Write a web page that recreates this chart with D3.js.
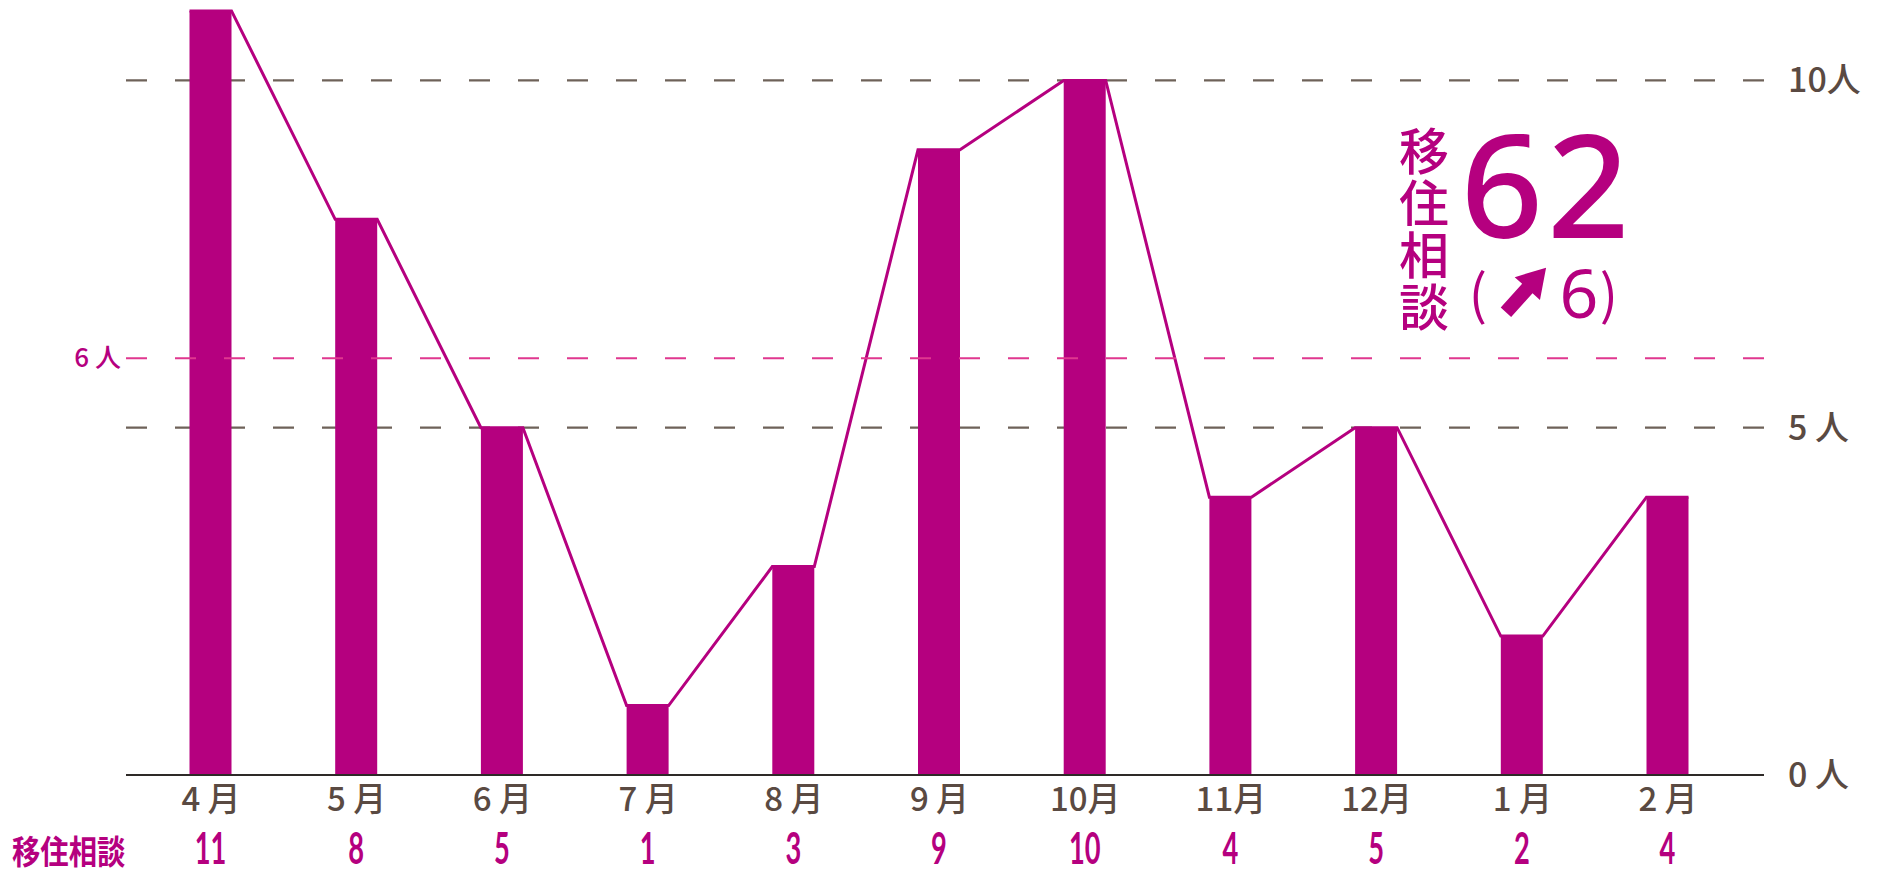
<!DOCTYPE html>
<html><head><meta charset="utf-8">
<script src="https://cdn.jsdelivr.net/npm/d3@7"></script>
<style>
html,body{margin:0;padding:0;background:#fff;}
svg{display:block;}
</style></head>
<body>
<svg id="chart" width="1882" height="873"></svg>
<script>
const months = ["4 月","5 月","6 月","7 月","8 月","9 月","10月","11月","12月","1 月","2 月"];
const counts = [11, 8, 5, 1, 3, 9, 10, 4, 5, 2, 4];
const gridValues = [10, 5];
const gridLabels = ["10人", "5 人"];
const zeroLabel = "0 人";
const avgValue = 6;
const avgLabel = "6 人";
const rowLabel = "移住相談";
const totalValue = 62;
const changeValue = 6;

const PINK = "#b5007f";
const PINK_LINE = "#e0378f";
const BROWN = "#5a4a42";
const GRAY = "#6e6259";
const FONT = "'Noto Sans CJK JP','Noto Sans',sans-serif";

const svg = d3.select("#chart");
const x = d3.scalePoint().domain(months).range([210.5, 1667.5]);
const y = d3.scaleLinear().domain([0, 10]).range([775, 80.4]);
const bw = 42;
const left = 126, right = 1764;

// gray dashed gridlines (behind)
svg.append("g").selectAll("line").data(gridValues).join("line")
  .attr("x1", left).attr("x2", right)
  .attr("y1", d => y(d)).attr("y2", d => y(d))
  .attr("stroke", GRAY).attr("stroke-width", 2.2)
  .attr("stroke-dasharray", "21,28");

// bars
svg.append("g").selectAll("rect").data(counts).join("rect")
  .attr("x", (d, i) => x(months[i]) - bw / 2)
  .attr("y", d => y(d))
  .attr("width", bw)
  .attr("height", d => y(0) - y(d))
  .attr("fill", PINK);

// connecting line through bar-top corners
const pts = [];
counts.forEach((d, i) => {
  pts.push([x(months[i]) - bw / 2, y(d)]);
  pts.push([x(months[i]) + bw / 2, y(d)]);
});
svg.append("path")
  .attr("d", d3.line()(pts))
  .attr("fill", "none").attr("stroke", PINK).attr("stroke-width", 3)
  .attr("stroke-linejoin", "miter");

// pink average dashed line (on top)
svg.append("line")
  .attr("x1", left).attr("x2", right)
  .attr("y1", y(avgValue)).attr("y2", y(avgValue))
  .attr("stroke", PINK_LINE).attr("stroke-width", 2.2)
  .attr("stroke-dasharray", "21,28");
svg.append("text")
  .attr("x", 121).attr("y", y(avgValue) + 9)
  .attr("text-anchor", "end")
  .attr("font-family", FONT).attr("font-size", 26).attr("font-weight", 500)
  .attr("fill", PINK).text(avgLabel);

// axis baseline
svg.append("line")
  .attr("x1", left).attr("x2", right)
  .attr("y1", y(0)).attr("y2", y(0))
  .attr("stroke", "#2e2a28").attr("stroke-width", 2.2);

// right labels
svg.append("g").selectAll("text").data(gridValues.concat([0])).join("text")
  .attr("x", 1788).attr("y", d => y(d) + 12)
  .attr("font-family", FONT).attr("font-size", 34).attr("font-weight", 500)
  .attr("fill", BROWN)
  .text((d, i) => i < gridLabels.length ? gridLabels[i] : zeroLabel);

// month labels via axis
const axis = d3.axisBottom(x).tickSize(0).tickPadding(0);
const ax = svg.append("g").attr("transform", "translate(0,811)").call(axis);
ax.select(".domain").remove();
ax.selectAll("text")
  .attr("y", 0).attr("dy", 0)
  .attr("font-family", FONT).attr("font-size", 33).attr("font-weight", 500)
  .attr("fill", BROWN);

// bottom row label
svg.append("text")
  .attr("transform", "translate(12,864) scale(0.86,1)")
  .attr("font-family", FONT).attr("font-size", 33).attr("font-weight", 700)
  .attr("fill", PINK).text(rowLabel);

// bottom row values
svg.append("g").selectAll("text").data(counts).join("text")
  .attr("transform", (d, i) => `translate(${x(months[i])},864) scale(0.62,1)`)
  .attr("text-anchor", "middle")
  .attr("font-family", "Lato, 'Noto Sans', sans-serif").attr("font-size", 44).attr("font-weight", 700)
  .attr("fill", PINK).text(d => d);

// annotation: vertical label
const ann = svg.append("g");
ann.selectAll("text.v").data(rowLabel.split("")).join("text")
  .attr("class", "v")
  .attr("x", 1424).attr("y", (d, i) => 170 + i * 52)
  .attr("text-anchor", "middle")
  .attr("font-family", FONT).attr("font-size", 50).attr("font-weight", 500)
  .attr("fill", PINK).text(d => d);

ann.append("text")
  .attr("x", 1547).attr("y", 238)
  .attr("text-anchor", "middle")
  .attr("font-family", "'Noto Sans','Open Sans',sans-serif").attr("font-size", 144).attr("font-weight", 500)
  .attr("letter-spacing", 4)
  .attr("fill", PINK).text(totalValue);

ann.append("text")
  .attr("x", 1478).attr("y", 314)
  .attr("text-anchor", "middle")
  .attr("font-family", FONT).attr("font-size", 54).attr("font-weight", 400)
  .attr("fill", PINK).text("(");
ann.append("text")
  .attr("x", 1579).attr("y", 318)
  .attr("text-anchor", "middle")
  .attr("font-family", "'Noto Sans',sans-serif").attr("font-size", 68).attr("font-weight", 400)
  .attr("fill", PINK).text(changeValue);
ann.append("text")
  .attr("x", 1609).attr("y", 314)
  .attr("text-anchor", "middle")
  .attr("font-family", FONT).attr("font-size", 54).attr("font-weight", 400)
  .attr("fill", PINK).text(")");
// up-right arrow
ann.append("path")
  .attr("transform", "translate(1526,290) rotate(-48)")
  .attr("d", "M-30,-7 L2,-7 L2,-17 L30,0 L2,17 L2,7 L-30,7 Z")
  .attr("fill", PINK);
</script>
</body></html>
